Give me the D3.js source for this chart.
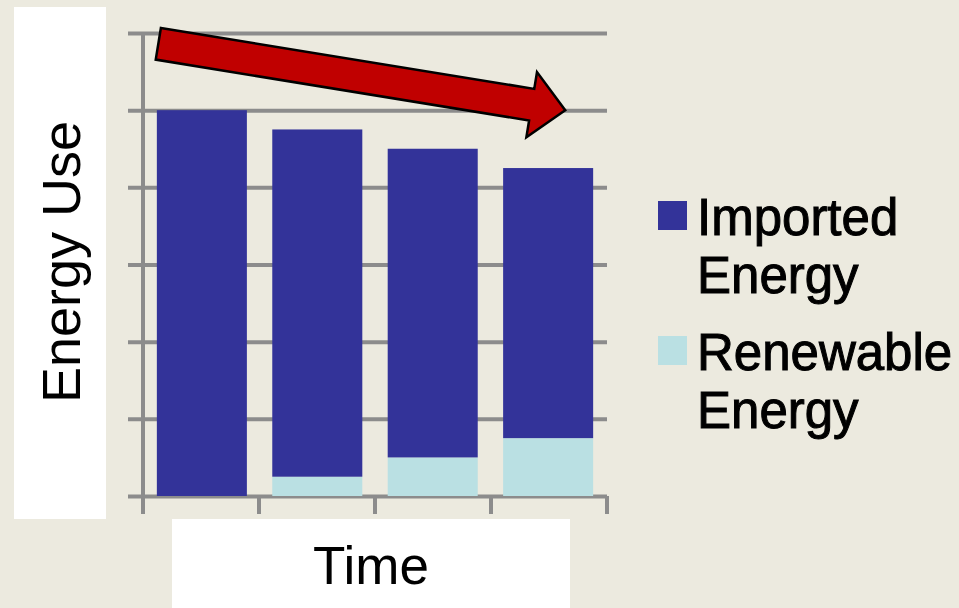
<!DOCTYPE html>
<html>
<head>
<meta charset="utf-8">
<script src="https://cdn.jsdelivr.net/npm/d3@7"></script>
<style>
  html, body { margin: 0; padding: 0; background: #ECEADF; }
  svg { display: block; font-family: "Liberation Sans", Arial, sans-serif; }
</style>
</head>
<body>
<div id="chart"></div>
<script>
'use strict';

// Data
const periods = ['T1', 'T2', 'T3', 'T4'];
const importedEnergy = [5.0, 4.5, 4.0, 3.5];
const renewableEnergy = [0.0, 0.25, 0.5, 0.75];
const seriesNames = ['Renewable Energy', 'Imported Energy'];
const yTicks = [0, 1, 2, 3, 4, 5, 6];
// trend arrow, in plot fractions (x) and value units (y)
const arrowFrom = [0.033, 5.86];
const arrowTo = [0.91, 5.0];

const width = 959, height = 608;
const plot = { left: 143, right: 607, top: 33, bottom: 496 };

const colors = {
    'Imported Energy': '#333399',
    'Renewable Energy': '#BAE0E3'
};

const svg = d3.select('#chart')
    .append('svg')
    .attr('width', width)
    .attr('height', height);

svg.append('rect')
    .attr('width', width).attr('height', height)
    .attr('fill', '#ECEADF');

// white label boxes
svg.append('rect')
    .attr('x', 14).attr('y', 7).attr('width', 92).attr('height', 512)
    .attr('fill', '#fff');
svg.append('rect')
    .attr('x', 172).attr('y', 519).attr('width', 398).attr('height', 89)
    .attr('fill', '#fff');

// Scales
const x = d3.scaleBand()
    .domain(periods)
    .range([plot.left, plot.right])
    .paddingInner(0.22)
    .paddingOuter(0.12);

const y = d3.scaleLinear()
    .domain([0, 6])
    .range([plot.bottom, plot.top]);

const xFrac = d3.scaleLinear().domain([0, 1]).range([plot.left, plot.right]);

// Gridlines (left axis with long ticks)
svg.append('g')
    .attr('transform', `translate(${plot.right},0)`)
    .call(d3.axisLeft(y).tickValues(yTicks).tickSize(plot.right - plot.left + 15).tickFormat(''))
    .call(g => g.select('.domain').remove())
    .call(g => g.selectAll('line').attr('stroke', '#8C8C8C').attr('stroke-width', 4));

// y axis line
svg.append('line')
    .attr('x1', plot.left).attr('x2', plot.left)
    .attr('y1', plot.top).attr('y2', plot.bottom + 18)
    .attr('stroke', '#8C8C8C').attr('stroke-width', 4);

// bottom ticks between categories
const tickXs = d3.range(periods.length + 1).map(i => plot.left + i * (plot.right - plot.left) / periods.length);
svg.append('g')
    .selectAll('line')
    .data(tickXs)
    .join('line')
    .attr('x1', d => d).attr('x2', d => d)
    .attr('y1', plot.bottom).attr('y2', plot.bottom + 18)
    .attr('stroke', '#8C8C8C').attr('stroke-width', 4);

// Stacked bars
const table = periods.map((p, i) => ({
    period: p,
    'Imported Energy': importedEnergy[i],
    'Renewable Energy': renewableEnergy[i]
}));
const stacked = d3.stack().keys(seriesNames)(table);

svg.append('g')
    .selectAll('g')
    .data(stacked)
    .join('g')
    .attr('fill', d => colors[d.key])
    .selectAll('rect')
    .data(d => d)
    .join('rect')
    .attr('x', d => x(d.data.period))
    .attr('width', x.bandwidth())
    .attr('y', d => y(d[1]))
    .attr('height', d => y(d[0]) - y(d[1]));

// Axis titles
svg.append('text')
    .attr('transform', `translate(80,262) rotate(-90)`)
    .attr('text-anchor', 'middle')
    .attr('font-size', 54)
    .attr('fill', '#000')
    .text('Energy Use');

svg.append('text')
    .attr('x', 371).attr('y', 584)
    .attr('text-anchor', 'middle')
    .attr('font-size', 53)
    .attr('fill', '#000')
    .text('Time');

// Legend
const legendItems = [
    { key: 'Imported Energy', lines: ['Imported', 'Energy'], y: 201 },
    { key: 'Renewable Energy', lines: ['Renewable', 'Energy'], y: 336 }
];
const legend = svg.append('g')
    .selectAll('g')
    .data(legendItems)
    .join('g')
    .attr('transform', d => `translate(658,${d.y})`);

legend.append('rect')
    .attr('width', 29).attr('height', 29)
    .attr('fill', d => colors[d.key]);

legend.append('text')
    .attr('font-size', 51)
    .attr('fill', '#000')
    .attr('stroke', '#000')
    .attr('stroke-width', 1)
    .selectAll('tspan')
    .data(d => d.lines)
    .join('tspan')
    .attr('x', 39)
    .attr('y', (d, i) => 34 + i * 58)
    .text(d => d);

// Trend arrow
const p0 = [xFrac(arrowFrom[0]), y(arrowFrom[1])];
const p1 = [xFrac(arrowTo[0]), y(arrowTo[1])];
const len = Math.hypot(p1[0] - p0[0], p1[1] - p0[1]);
const ang = Math.atan2(p1[1] - p0[1], p1[0] - p0[0]) * 180 / Math.PI;
const shaftHalf = 16, headHalf = 33, headLen = 34;
const arrowPts = [
    [0, -shaftHalf], [len - headLen, -shaftHalf], [len - headLen, -headHalf],
    [len, 0],
    [len - headLen, headHalf], [len - headLen, shaftHalf], [0, shaftHalf]
];
svg.append('path')
    .attr('transform', `translate(${p0[0]},${p0[1]}) rotate(${ang})`)
    .attr('d', d3.line()(arrowPts) + 'Z')
    .attr('fill', '#C00000')
    .attr('stroke', '#000')
    .attr('stroke-width', 2.5)
    .attr('stroke-linejoin', 'miter');
</script>
</body>
</html>
